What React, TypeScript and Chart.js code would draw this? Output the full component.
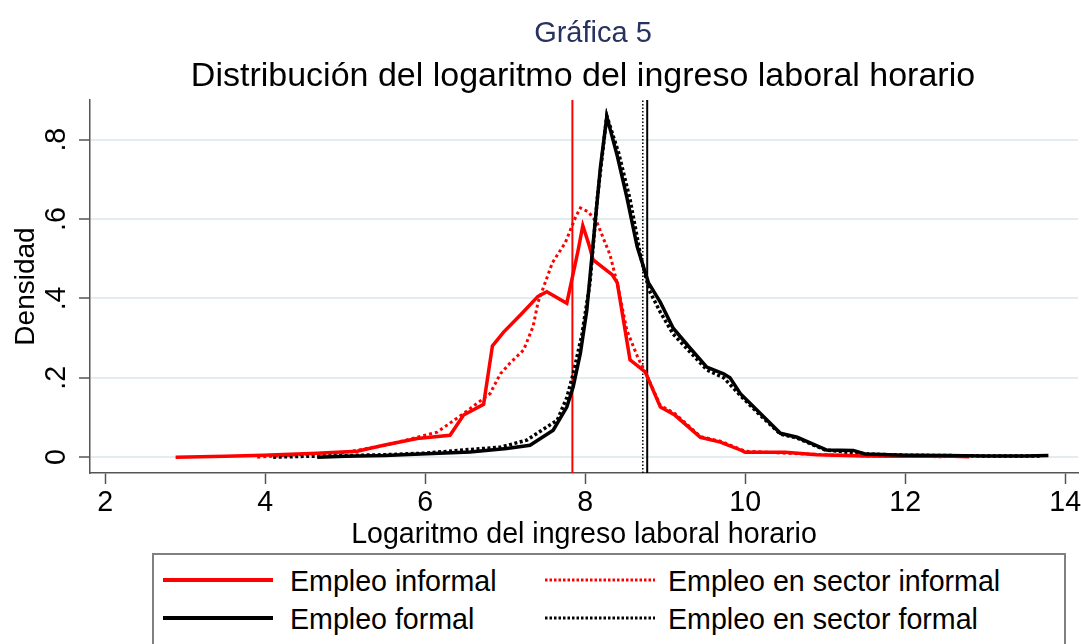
import React, { useEffect, useRef } from "react";
import { Chart, registerables } from "chart.js";

Chart.register(...registerables);

const FONT = "'Liberation Sans', Arial, Helvetica, sans-serif";

const chartTitle = "Gráfica 5";
const chartSubtitle = "Distribución del logaritmo del ingreso laboral horario";
const xAxisTitle = "Logaritmo del ingreso laboral horario";
const yAxisTitle = "Densidad";

const xTicks = [2, 4, 6, 8, 10, 12, 14];
const xTickLabels = ["2", "4", "6", "8", "10", "12", "14"];
const yTicks = [0, 0.2, 0.4, 0.6, 0.8];
const yTickLabels = ["0", ".2", ".4", ".6", ".8"];

const seriesNames = [
  "Empleo informal",
  "Empleo en sector informal",
  "Empleo formal",
  "Empleo en sector formal",
];

// Empleo informal (red solid)
const redSolidX = [2.88, 3.5, 3.98, 4.65, 5.15, 5.48, 5.9, 6.06, 6.31, 6.48, 6.73, 6.84, 6.98, 7.19, 7.41, 7.52, 7.77, 7.91, 7.97, 8.04, 8.1, 8.34, 8.4, 8.56, 8.75, 8.94, 9.12, 9.44, 9.69, 9.94, 10.0, 10.5, 10.9, 11.5, 12.0, 12.5, 12.8];
const redSolidY = [0, 0.002, 0.005, 0.01, 0.015, 0.03, 0.047, 0.05, 0.055, 0.106, 0.133, 0.28, 0.315, 0.358, 0.405, 0.417, 0.388, 0.52, 0.583, 0.54, 0.497, 0.459, 0.44, 0.245, 0.215, 0.126, 0.106, 0.05, 0.038, 0.018, 0.012, 0.012, 0.006, 0.003, 0.002, 0.003, 0.001];

// Empleo en sector informal (red dotted)
const redDotX = [3.9, 4.5, 5.0, 5.5, 5.9, 6.15, 6.48, 6.81, 6.94, 7.06, 7.23, 7.35, 7.41, 7.59, 7.75, 7.88, 7.94, 8.04, 8.15, 8.25, 8.31, 8.41, 8.52, 8.66, 8.75, 8.94, 9.12, 9.44, 9.69, 9.94, 10.0, 10.5, 11.0, 11.5, 12.0, 12.5];
const redDotY = [0, 0.007, 0.012, 0.03, 0.05, 0.063, 0.11, 0.16, 0.21, 0.237, 0.27, 0.33, 0.39, 0.49, 0.54, 0.605, 0.628, 0.618, 0.59, 0.54, 0.51, 0.43, 0.32, 0.25, 0.215, 0.13, 0.11, 0.052, 0.04, 0.02, 0.015, 0.01, 0.006, 0.003, 0.002, 0.001];

// Empleo formal (black solid)
const blackSolidX = [4.65, 5.0, 5.5, 5.94, 6.56, 7.02, 7.31, 7.6, 7.77, 7.85, 7.94, 8.02, 8.1, 8.19, 8.27, 8.4, 8.52, 8.65, 8.79, 8.94, 9.1, 9.31, 9.52, 9.73, 9.81, 9.94, 10.19, 10.44, 10.65, 11.02, 11.35, 11.5, 12.0, 12.5, 13.0, 13.5, 13.79];
const blackSolidY = [0, 0.002, 0.004, 0.008, 0.013, 0.022, 0.03, 0.068, 0.126, 0.177, 0.262, 0.37, 0.54, 0.73, 0.858, 0.76, 0.655, 0.53, 0.44, 0.39, 0.325, 0.275, 0.227, 0.21, 0.2, 0.16, 0.11, 0.06, 0.05, 0.018, 0.017, 0.008, 0.005, 0.004, 0.003, 0.003, 0.004];

// Empleo en sector formal (black dotted)
const blackDotX = [4.1, 4.5, 5.0, 5.5, 6.0, 6.48, 6.94, 7.27, 7.65, 7.77, 7.85, 7.96, 8.06, 8.15, 8.27, 8.42, 8.56, 8.7, 8.8, 8.94, 9.1, 9.31, 9.52, 9.73, 9.94, 10.19, 10.44, 10.65, 11.0, 11.5, 12.0, 13.0, 13.7];
const blackDotY = [0, 0.002, 0.004, 0.006, 0.01, 0.018, 0.025, 0.043, 0.093, 0.15, 0.21, 0.31, 0.44, 0.65, 0.86, 0.765, 0.65, 0.5, 0.42, 0.365, 0.31, 0.265, 0.22, 0.2, 0.155, 0.105, 0.058, 0.048, 0.018, 0.008, 0.005, 0.003, 0.003];

// Mean reference lines
const meanInformal = 7.84;
const meanSectorFormal = 8.72;
const meanFormal = 8.775;

const X_MIN = 1.81;
const X_MAX = 14.16;
const Y_MIN = -0.04;
const Y_MAX = 0.9;

const zip = (xs: number[], ys: number[]) => xs.map((x, i) => ({ x, y: ys[i] }));
const vline = (x: number) => [
  { x, y: Y_MIN },
  { x, y: Y_MAX },
];

export default function App() {
  const ref = useRef<HTMLCanvasElement | null>(null);

  useEffect(() => {
    if (!ref.current) return;
    const tickFont = { family: FONT, size: 28.6 };
    const chart = new Chart(ref.current, {
      type: "line",
      data: {
        datasets: [
          { label: seriesNames[2], data: zip(blackSolidX, blackSolidY), borderColor: "#000", borderWidth: 3.5, pointRadius: 0, tension: 0, fill: false },
          { label: seriesNames[0], data: zip(redSolidX, redSolidY), borderColor: "#ff0000", borderWidth: 3.5, pointRadius: 0, tension: 0, fill: false },
          { label: seriesNames[3], data: zip(blackDotX, blackDotY), borderColor: "#000", borderWidth: 3.5, borderDash: [3, 2.5], pointRadius: 0, tension: 0, fill: false },
          { label: seriesNames[1], data: zip(redDotX, redDotY), borderColor: "#ff0000", borderWidth: 3, borderDash: [3, 3], pointRadius: 0, tension: 0, fill: false },
          { label: "meanInformal", data: vline(meanInformal), borderColor: "#ff0000", borderWidth: 2, pointRadius: 0, fill: false },
          { label: "meanSectorFormal", data: vline(meanSectorFormal), borderColor: "#000", borderWidth: 1.5, borderDash: [1.5, 2], pointRadius: 0, fill: false },
          { label: "meanFormal", data: vline(meanFormal), borderColor: "#000", borderWidth: 2, pointRadius: 0, fill: false },
        ],
      },
      options: {
        animation: false,
        responsive: false,
        maintainAspectRatio: false,
        events: [],
        layout: { padding: { left: 0, right: 3, top: 100, bottom: 0 } },
        plugins: {
          legend: { display: false },
          tooltip: { enabled: false },
          title: { display: false },
        },
        scales: {
          x: {
            type: "linear",
            min: X_MIN,
            max: X_MAX,
            afterBuildTicks: (s: any) => {
              s.ticks = xTicks.map((v) => ({ value: v }));
            },
            afterFit: (s: any) => {
              s.height = 80;
              s.paddingLeft = 0;
              s.paddingRight = 0;
            },
            grid: { display: true, drawOnChartArea: false, drawTicks: true, tickLength: 11, tickColor: "#555", tickWidth: 1.5 },
            border: { display: true, color: "#555", width: 1.5 },
            ticks: {
              font: tickFont,
              color: "#000",
              padding: 2,
              maxRotation: 0,
              minRotation: 0,
              autoSkip: false,
              callback: (v: any) => xTickLabels[xTicks.indexOf(Number(v))] ?? "",
            },
            title: {
              display: true,
              text: xAxisTitle,
              color: "#000",
              font: { family: FONT, size: 28.6 },
              padding: { top: 0, bottom: 1 },
            },
          },
          y: {
            type: "linear",
            min: Y_MIN,
            max: Y_MAX,
            afterBuildTicks: (s: any) => {
              s.ticks = yTicks.map((v) => ({ value: v }));
            },
            afterFit: (s: any) => {
              s.width = 90;
              s.paddingTop = 0;
              s.paddingBottom = 0;
            },
            grid: { color: "#e3ecee", lineWidth: 2, drawTicks: true, tickLength: 11, tickColor: "#555", tickWidth: 1.5 },
            border: { display: true, color: "#555", width: 1.5 },
            ticks: {
              font: tickFont,
              color: "#000",
              padding: 10,
              minRotation: 90,
              maxRotation: 90,
              crossAlign: "center",
              autoSkip: false,
              callback: (v: any) => yTickLabels[yTicks.indexOf(Number(v))] ?? "",
            },
            title: {
              display: true,
              text: yAxisTitle,
              color: "#000",
              font: { family: FONT, size: 28 },
              padding: { top: 9, bottom: 0 },
            },
          },
        },
      } as any,
    });
    return () => chart.destroy();
  }, []);

  const legendText: React.CSSProperties = {
    position: "absolute",
    fontFamily: FONT,
    fontSize: 28.6,
    lineHeight: "28.6px",
    color: "#000",
    whiteSpace: "nowrap",
  };

  const sample = (x: number, y: number, color: string, dotted: boolean) => (
    <svg style={{ position: "absolute", left: x, top: y - 5 }} width={112} height={10}>
      <line
        x1={0}
        y1={5}
        x2={110}
        y2={5}
        stroke={color}
        strokeWidth={dotted ? 3 : 4}
        strokeDasharray={dotted ? "2.5 2" : undefined}
      />
    </svg>
  );

  return (
    <div style={{ position: "fixed", left: 0, top: 0, width: 1081, height: 644, overflow: "hidden", background: "#fff" }}>
      <canvas ref={ref} width={1081} height={553} style={{ position: "absolute", left: 0, top: 0, width: 1081, height: 553 }} />
      <div style={{ position: "absolute", left: 393, width: 400, top: 17.5, textAlign: "center", fontFamily: FONT, fontSize: 29, lineHeight: "29px", color: "#27325f", whiteSpace: "nowrap" }}>
        {chartTitle}
      </div>
      <div style={{ position: "absolute", left: 83, width: 1000, top: 57.2, textAlign: "center", fontFamily: FONT, fontSize: 34, lineHeight: "34px", color: "#000", whiteSpace: "nowrap" }}>
        {chartSubtitle}
      </div>
      <div style={{ position: "absolute", left: 152, top: 553, width: 914, height: 120, border: "2px solid #808080", boxSizing: "border-box" }} />
      {sample(163, 580, "#ff0000", false)}
      {sample(545, 580, "#ff0000", true)}
      {sample(163, 618, "#000", false)}
      {sample(545, 618, "#000", true)}
      <div style={{ ...legendText, left: 290, top: 566.8 }}>{seriesNames[0]}</div>
      <div style={{ ...legendText, left: 668, top: 566.8 }}>{seriesNames[1]}</div>
      <div style={{ ...legendText, left: 290, top: 604.8 }}>{seriesNames[2]}</div>
      <div style={{ ...legendText, left: 668, top: 604.8 }}>{seriesNames[3]}</div>
    </div>
  );
}
